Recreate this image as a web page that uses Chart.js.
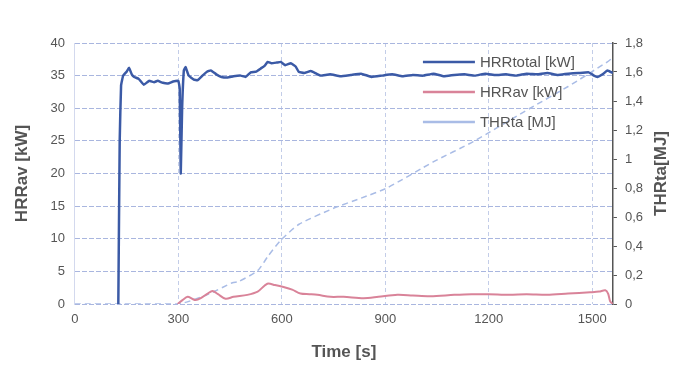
<!DOCTYPE html>
<html>
<head>
<meta charset="utf-8">
<script src="https://cdn.jsdelivr.net/npm/chart.js@4.4.1/dist/chart.umd.min.js"></script>
<style>
  html, body { margin: 0; padding: 0; background: #fff; }
  #wrap { width: 675px; height: 376px; }
</style>
</head>
<body>
<div id="wrap"><canvas id="chart"></canvas></div>
<script>
// HRRtotal [kW] (left axis)
const totalTime = [126, 130, 134, 140, 150, 157, 165, 172, 185, 200, 215, 230, 240, 255, 270, 285, 300, 304, 307, 311, 316, 321, 330, 345, 356, 370, 383, 394, 410, 425, 443, 460, 481, 495, 510, 525, 539, 550, 559, 570, 585, 597, 610, 626, 640, 649, 665, 684, 700, 713,
  740, 770, 800, 830, 860, 890, 920, 950, 980, 1010, 1040, 1070, 1100, 1130, 1160, 1190, 1220, 1250, 1280, 1310, 1340, 1370, 1400, 1430, 1460, 1490, 1505, 1515, 1530, 1544, 1560];
const totalVal = [0, 25, 33.5, 35, 35.6, 36.2, 35.2, 34.8, 34.5, 33.6, 34.2, 34.0, 34.2, 33.9, 33.8, 34.1, 34.2, 33, 20, 30, 35.8, 36.3, 35.0, 34.4, 34.3, 35.0, 35.6, 35.8, 35.2, 34.8, 34.7, 34.9, 35.0, 34.8, 35.5, 35.6, 36.1, 36.5, 37.1, 36.9, 37.0, 37.1, 36.6, 36.9, 36.4, 35.6, 35.4, 35.7, 35.3, 35.0,
  35.2, 34.9, 35.1, 35.3, 34.8, 35.0, 35.2, 34.9, 35.1, 35.0, 35.3, 34.9, 35.1, 35.2, 35.0, 35.3, 35.1, 35.2, 35.0, 35.3, 35.2, 35.4, 35.1, 35.3, 35.4, 35.5, 35.0, 34.8, 35.2, 35.8, 35.4];

// HRRav [kW] (left axis)
const avTime = [298, 312, 327, 340, 350, 365, 385, 399, 415, 437, 460, 500, 530, 558, 580, 605, 630, 654, 680, 703, 741, 779, 837, 880, 935, 980, 1031, 1100, 1150, 1199, 1260, 1310, 1369, 1430, 1494, 1520, 1538, 1546, 1552, 1560];
const avVal = [0, 0.6, 1.1, 0.8, 0.6, 0.9, 1.6, 2.0, 1.5, 0.8, 1.1, 1.4, 1.9, 3.1, 2.9, 2.6, 2.2, 1.6, 1.5, 1.4, 1.1, 1.1, 0.9, 1.1, 1.4, 1.3, 1.2, 1.4, 1.5, 1.5, 1.4, 1.5, 1.4, 1.6, 1.8, 1.9, 2.1, 1.6, 0.4, 0];

// THRta [MJ] (right axis)
const thrTime = [0, 120, 300, 380, 457, 475, 530, 560, 597, 650, 750, 830, 905, 1039, 1155, 1320, 1430, 1544, 1560];
const thrVal = [0, 0, 0, 0.06, 0.147, 0.155, 0.23, 0.33, 0.44, 0.55, 0.66, 0.73, 0.80, 0.98, 1.12, 1.35, 1.50, 1.67, 1.70];

// ticks
const timeTicks = [0, 300, 600, 900, 1200, 1500];
const leftTicks = [0, 5, 10, 15, 20, 25, 30, 35, 40];
const rightTickLabels = ['0', '0,2', '0,4', '0,6', '0,8', '1', '1,2', '1,4', '1,6', '1,8'];

const seriesNames = ['HRRtotal [kW]', 'HRRav [kW]', 'THRta [MJ]'];
const seriesColors = ['#3b5aa6', '#d98399', '#a9bce6'];
const rightTitle = 'THRta[MJ]';

const pts = (xs, ys) => xs.map((x, i) => ({ x: x, y: ys[i] }));

const textColor = '#555';
const font = 'Liberation Sans, Arial, sans-serif';

// white page, legend inside the plot (top right) and the right axis title read bottom-up
const extras = {
    id: 'extras',
    beforeDraw(chart) {
        const c = chart.ctx;
        c.save();
        c.fillStyle = '#fff';
        c.fillRect(0, 0, chart.width, chart.height);
        c.restore();
    },
    afterDatasetsDraw(chart) {
        const c = chart.ctx;
        const a = chart.chartArea;
        c.save();
        c.font = '15px ' + font;
        c.textBaseline = 'middle';
        seriesNames.forEach((name, i) => {
            const y = a.top + 19 + i * 30;
            const x0 = a.right - 190;
            c.strokeStyle = seriesColors[i];
            c.lineWidth = 2.5;
            c.beginPath();
            c.moveTo(x0, y);
            c.lineTo(x0 + 52, y);
            c.stroke();
            c.fillStyle = textColor;
            c.fillText(name, x0 + 57, y + 1);
        });
        c.restore();
    },
    afterDraw(chart) {
        const c = chart.ctx;
        const a = chart.chartArea;
        c.save();
        c.translate(a.right + 48, (a.top + a.bottom) / 2);
        c.rotate(-Math.PI / 2);
        c.font = 'bold 17px ' + font;
        c.fillStyle = textColor;
        c.textAlign = 'center';
        c.textBaseline = 'middle';
        c.fillText(rightTitle, 0, 0);
        c.restore();
    }
};

new Chart(document.getElementById('chart'), {
    type: 'line',
    data: {
        datasets: [
            {
                label: seriesNames[0],
                data: pts(totalTime, totalVal),
                borderColor: seriesColors[0],
                borderWidth: 2.5,
                tension: 0.1,
                yAxisID: 'y',
                order: 1
            },
            {
                label: seriesNames[1],
                data: pts(avTime, avVal),
                borderColor: seriesColors[1],
                borderWidth: 2,
                tension: 0.3,
                yAxisID: 'y',
                order: 2
            },
            {
                label: seriesNames[2],
                data: pts(thrTime, thrVal),
                borderColor: seriesColors[2],
                borderWidth: 1.5,
                borderDash: [6, 4],
                tension: 0.2,
                yAxisID: 'y2',
                order: 3
            }
        ]
    },
    options: {
        responsive: true,
        maintainAspectRatio: false,
        animation: false,
        elements: { point: { radius: 0 } },
        layout: { padding: { left: 12, right: 24, top: 43, bottom: 13 } },
        plugins: {
            legend: { display: false },
            tooltip: { enabled: false }
        },
        scales: {
            x: {
                type: 'linear',
                min: 0,
                max: 1560,
                afterBuildTicks: (axis) => { axis.ticks = timeTicks.map(v => ({ value: v })); },
                ticks: { color: textColor, font: { family: font, size: 13 }, padding: 8, maxRotation: 0, callback: (v) => String(v) },
                grid: { color: '#c3cde8', drawTicks: false },
                border: { display: false, dash: [4, 3] },
                title: { display: true, text: 'Time [s]', color: textColor, font: { family: font, size: 17, weight: 'bold' }, padding: { top: 7, bottom: 0 } }
            },
            y: {
                position: 'left',
                min: 0,
                max: 40,
                afterBuildTicks: (axis) => { axis.ticks = leftTicks.map(v => ({ value: v })); },
                ticks: { color: textColor, font: { family: font, size: 13 }, padding: 10 },
                grid: { color: '#a9b6df', drawTicks: false },
                border: { display: true, color: '#d3d9ee', dash: [5, 2] },
                title: { display: true, text: 'HRRav [kW]', color: textColor, font: { family: font, size: 17, weight: 'bold' }, padding: { top: 0, bottom: 8 } }
            },
            y2: {
                position: 'right',
                min: 0,
                max: 1.8,
                afterBuildTicks: (axis) => { axis.ticks = rightTickLabels.map((t, i) => ({ value: i * 0.2 })); },
                ticks: {
                    color: textColor,
                    font: { family: font, size: 13 },
                    padding: 8,
                    callback: (v, i) => rightTickLabels[i]
                },
                grid: { drawOnChartArea: false, color: '#555', tickLength: 4 },
                border: { display: true, color: '#555', width: 1.5 }
            }
        }
    },
    plugins: [extras]
});
</script>
</body>
</html>
